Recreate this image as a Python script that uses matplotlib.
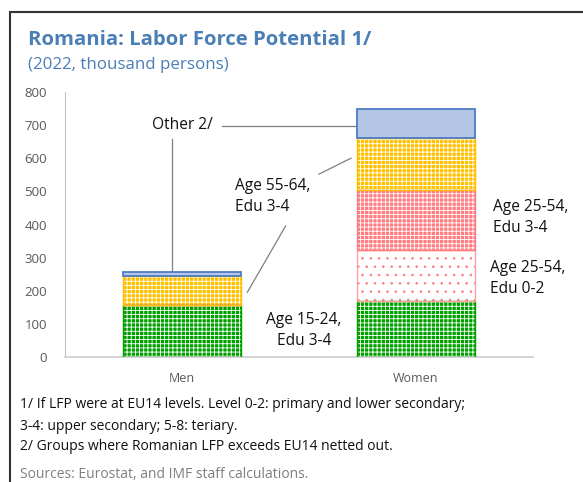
import matplotlib
matplotlib.use("Agg")
import matplotlib.pyplot as plt
from matplotlib.patches import Rectangle

plt.rcParams['font.family'] = ['Open Sans', 'DejaVu Sans']

categories = ["Men", "Women"]
seg_names = ["Age 15-24, Edu 3-4", "Age 25-54, Edu 0-2", "Age 25-54, Edu 3-4",
             "Age 55-64, Edu 3-4", "Other 2/"]
men_vals = [156, 0, 0, 89, 11]
women_vals = [169, 155, 181, 157, 86]
yticks = [0, 100, 200, 300, 400, 500, 600, 700, 800]

face = ["#00a000", "white", "#ff7c80", "#ffc000", "#b4c7e7"]
hatchc = ["white", "#ff7c80", "white", "white", None]
edge = ["#00a000", "#ffa0a0", "#ff7c80", "#ffc000", "#4472c4"]
hatch = ["++++", "..", "++++", "++++", None]

fig = plt.figure(figsize=(5.83, 4.82), dpi=100)
ax = fig.add_axes([65/583, 1-357/482, 468/583, 265/482])

x = [0, 1]
bottoms = [0, 0]
width = 0.505
plt.rcParams['hatch.linewidth'] = 0.6
for i in range(len(seg_names)):
    vals = [men_vals[i], women_vals[i]]
    if hatch[i]:
        ax.bar(x, vals, width, bottom=bottoms, color=face[i], edgecolor=hatchc[i],
               hatch=hatch[i], linewidth=0, zorder=2)
        ax.bar(x, vals, width, bottom=bottoms, fill=False, edgecolor=edge[i],
               linewidth=1.0, zorder=3)
    else:
        ax.bar(x, vals, width, bottom=bottoms, color=face[i], edgecolor=edge[i],
               linewidth=1.2, zorder=3)
    bottoms = [bottoms[0] + vals[0], bottoms[1] + vals[1]]

ax.set_xlim(-0.5, 1.5)
ax.set_ylim(0, 800)
ax.set_yticks(yticks)
ax.set_xticks(x)
ax.set_xticklabels(categories)
for s in ["top", "right"]:
    ax.spines[s].set_visible(False)
ax.spines["left"].set_color("#bfbfbf")
ax.spines["bottom"].set_color("#d0d0d0")
ax.spines["bottom"].set_linewidth(1.3)
ax.tick_params(axis="both", length=0, labelcolor="#595959")
ax.tick_params(axis="y", pad=13, labelsize=9.5)
ax.tick_params(axis="x", pad=11, labelsize=9)

tc = "#111111"
lc = "#7f7f7f"
fs = 11.2
ls = 1.42
men_cum = [sum(men_vals[:k+1]) for k in range(5)]

ax.text(0.132, 700, "Other 2/", fontsize=fs, color=tc, ha="right", va="center")
ax.plot([0.171, 0.739], [697, 697], color=lc, lw=0.9)
ax.plot([-0.043, -0.043], [657, men_cum[4] + 4], color=lc, lw=0.9)

ax.text(0.225, 484, "Age 55-64,\nEdu 3-4", fontsize=fs, color=tc, ha="left", va="center",
        linespacing=ls)
ax.plot([0.585, 0.722], [552, 600], color=lc, lw=0.9)
ax.plot([0.443, 0.279], [396, 195], color=lc, lw=0.9)

ax.text(0.521, 81, "Age 15-24,\nEdu 3-4", fontsize=fs, color=tc, ha="center", va="center",
        linespacing=ls)
ax.text(1.329, 422, "Age 25-54,\nEdu 3-4", fontsize=fs, color=tc, ha="left", va="center",
        linespacing=ls, clip_on=False)
ax.text(1.316, 237, "Age 25-54,\nEdu 0-2", fontsize=fs, color=tc, ha="left", va="center",
        linespacing=ls, clip_on=False)

title_c = "#4a7fb5"
fig.text(28/583, 1-40/482, "Romania: Labor Force Potential 1/", fontsize=14.6, fontweight="bold",
         color=title_c, ha="left", va="center")
fig.text(28/583, 1-65/482, "(2022, thousand persons)", fontsize=12.2, color=title_c,
         ha="left", va="center")

notes = ["1/ If LFP were at EU14 levels. Level 0-2: primary and lower secondary;",
         "3-4: upper secondary; 5-8: teriary.",
         "2/ Groups where Romanian LFP exceeds EU14 netted out."]
ys = [405, 426.5, 447]
for n, yy in zip(notes, ys):
    fig.text(20/583, 1-yy/482, n, fontsize=10, color=tc, ha="left", va="center")
fig.text(20/583, 1-475/482, "Sources: Eurostat, and IMF staff calculations.", fontsize=10,
         color="#7f7f7f", ha="left", va="center")

border = Rectangle((10/583, -0.05), 1.2, 1-12/482 + 0.05, transform=fig.transFigure,
                   fill=False, edgecolor="#333333", linewidth=1.5)
fig.patches.append(border)

fig.savefig("out.png", dpi=100)
